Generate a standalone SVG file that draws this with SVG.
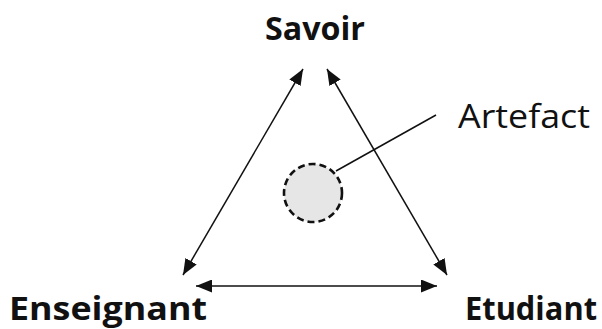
<svg xmlns="http://www.w3.org/2000/svg" width="602" height="329" viewBox="0 0 602 329">
<style>
.lbl{font-family:"Open Sans","Liberation Sans",sans-serif;fill:#111}
.b{font-weight:bold;font-size:32px}
.n{font-size:32px}
.c{stroke:#111;stroke-width:1.5;fill:none}
</style>
<defs>
<marker id="ah2" viewBox="0 0 16 13" refX="16" refY="6.5" markerWidth="16" markerHeight="13" markerUnits="userSpaceOnUse" orient="auto-start-reverse">
<path d="M0,0 L16,6.5 L0,13 z" fill="#111"/>
</marker>
</defs>
<rect width="602" height="329" fill="#fff"/>
<g id="connectors">
<line class="c" x1="183" y1="275" x2="303" y2="69" marker-start="url(#ah2)" marker-end="url(#ah2)"/>
<line class="c" x1="327" y1="69" x2="447" y2="275" marker-start="url(#ah2)" marker-end="url(#ah2)"/>
<line class="c" x1="196" y1="286" x2="437" y2="286" marker-start="url(#ah2)" marker-end="url(#ah2)"/>
<line class="c" x1="336" y1="171" x2="436" y2="115"/>
</g>
<g id="savoir"><text class="lbl b" x="265" y="40" textLength="100" lengthAdjust="spacingAndGlyphs">Savoir</text></g>
<g id="enseignant"><text class="lbl b" x="9" y="320" textLength="198" lengthAdjust="spacingAndGlyphs">Enseignant</text></g>
<g id="etudiant"><text class="lbl b" x="465" y="320" textLength="132" lengthAdjust="spacingAndGlyphs">Etudiant</text></g>
<g id="artefact">
<circle cx="313" cy="193" r="29" fill="#e6e6e6" stroke="#111" stroke-width="2.6" stroke-dasharray="7,4"/>
<text class="lbl n" x="458" y="128" textLength="132" lengthAdjust="spacingAndGlyphs">Artefact</text>
</g>
</svg>
